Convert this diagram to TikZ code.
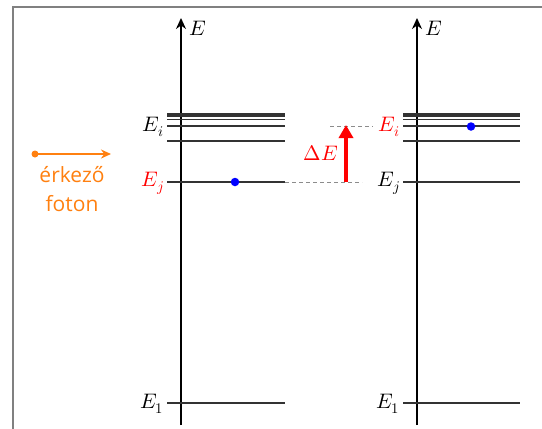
\documentclass[tikz,border=0pt]{standalone}
\usepackage{fontspec}
\usepackage{unicode-math}
\setmainfont{Open Sans}
\setmathfont{Latin Modern Math}
\usetikzlibrary{arrows.meta}
\definecolor{phot}{RGB}{255,128,16}
\tikzset{
  axis/.style={line width=2.4pt,-{Stealth[length=11pt,width=10pt]}},
  level/.style={line width=1.2pt,draw=black!80},
  levelgap/.style={line width=0.8pt,draw=black!45,dash pattern=on 4pt off 3pt},
  lab/.style={font=\fontsize{21}{25}\selectfont,anchor=east,inner sep=1pt},
  elec/.style={circle,fill=blue,inner sep=0pt,minimum size=8.5pt},
  frameline/.style={line width=2pt,draw=black!50},
}
\begin{document}
\begin{tikzpicture}[x=1pt,y=-1pt]
\useasboundingbox (0,0) rectangle (542,429);
\draw[frameline] (13,429) -- (13,7) -- (542,7);
% axes
\coordinate (a1b) at (181,425);
\coordinate (a1t) at (181,18);
\coordinate (a2b) at (417,425);
\coordinate (a2t) at (417,18);
\draw[axis] (a1b) -- (a1t);
\draw[axis] (a2b) -- (a2t);
\node[lab,anchor=west] (e1lab) at (188,28) {$E$};
\node[lab,anchor=west] (e2lab) at (424,28) {$E$};
% levels
\foreach \y in {114,116,119.5,126,141,182,403}{
  \draw[level] (167,\y) -- (285,\y);
  \draw[level] (403,\y) -- (520,\y);
}
% labels left
\node[lab] (Lei) at (165,127) {$E_i$};
\node[lab,text=red] (Lej) at (165,183) {$E_j$};
\node[lab] (Le1) at (165,404) {$E_1$};
% labels right
\node[lab,text=red] (Rei) at (401,127) {$E_i$};
\node[lab] (Rej) at (401,183) {$E_j$};
\node[lab] (Re1) at (401,404) {$E_1$};
% electrons
\node[elec] (el1) at (235,182) {};
\node[elec] (el2) at (471,126.5) {};
% dashed guides
\coordinate (g1a) at (285,182);
\coordinate (g1b) at (362,182);
\coordinate (g2a) at (330,126);
\coordinate (g2b) at (373,126);
\draw[levelgap] (g1a) -- (g1b);
\draw[levelgap] (g2a) -- (g2b);
% delta E arrow
\coordinate (dEb) at (346,182);
\coordinate (dEt) at (346,125);
\draw[red,line width=3.6pt,-{Triangle[length=13pt,width=14pt]}] (dEb) -- (dEt);
\node[lab,text=red] (dElab) at (339,153) {$\Delta E$};
% photon
\coordinate (ph0) at (35,154);
\coordinate (ph1) at (111,154);
\fill[phot] (ph0) circle (3.5pt);
\draw[phot,line width=1.8pt,-{Stealth[length=10pt,width=9pt]}] (ph0) -- (ph1);
\node[text=phot,font=\fontsize{21}{29}\selectfont,align=center,anchor=north] (phlab) at (72,163) {érkező\\foton};
\end{tikzpicture}
\end{document}
